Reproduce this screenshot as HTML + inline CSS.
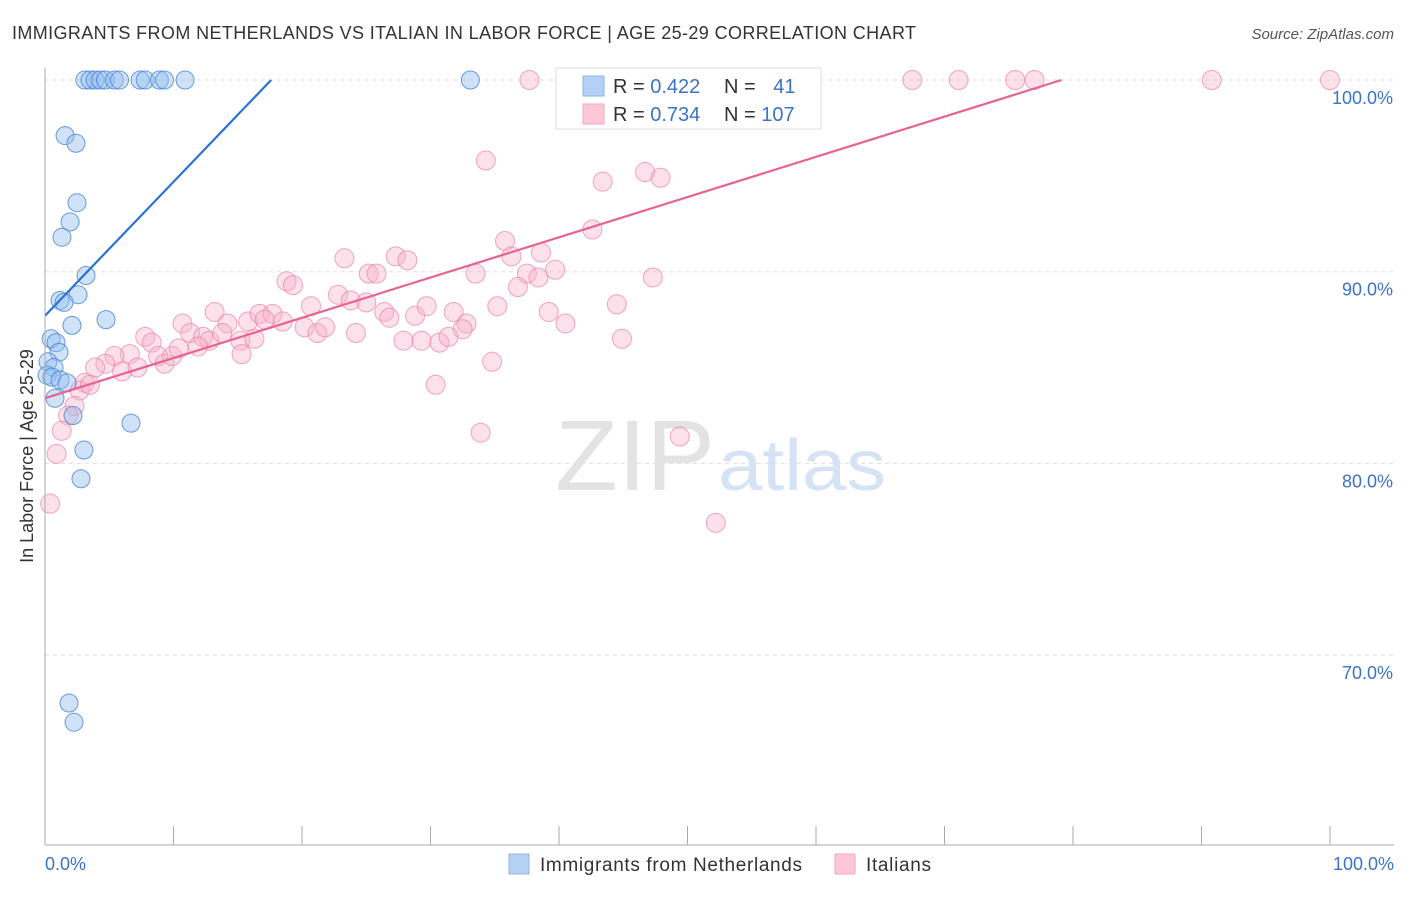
<!DOCTYPE html>
<html><head><meta charset="utf-8"><style>
body{margin:0;background:#fff;font-family:"Liberation Sans",sans-serif;}
svg text{font-family:"Liberation Sans",sans-serif;}
</style></head><body>
<svg id="chart" width="1406" height="892">
<text x="12" y="39" font-size="18" fill="#333" textLength="904" lengthAdjust="spacing">IMMIGRANTS FROM NETHERLANDS VS ITALIAN IN LABOR FORCE | AGE 25-29 CORRELATION CHART</text>
<text x="1394" y="39" font-size="15" fill="#555" font-style="italic" text-anchor="end">Source: ZipAtlas.com</text>
<g id="grid"></g>
<text x="555" y="490" font-size="100" fill="#e3e3e3" font-family="Liberation Serif" textLength="160" lengthAdjust="spacingAndGlyphs">ZIP</text>
<text x="718" y="490" font-size="72" fill="#d5e3f4" textLength="168" lengthAdjust="spacingAndGlyphs">atlas</text>
<g id="pts"></g>
<g id="lines"></g>
<line x1="45" y1="68" x2="45" y2="845" stroke="#aaa"/>
<line x1="45" y1="845" x2="1394" y2="845" stroke="#aaa"/>
<g id="ticks"></g>
<text x="33" y="456" font-size="18" fill="#333" text-anchor="middle" transform="rotate(-90 33 456)">In Labor Force | Age 25-29</text>
<text x="45" y="870" font-size="18" fill="#3b73c9">0.0%</text>
<text x="1394" y="870" font-size="18" fill="#3b73c9" text-anchor="end">100.0%</text>
<g>
<rect x="556" y="68" width="265" height="61" fill="#fff" stroke="#ddd"/>
<rect x="583" y="76" width="21" height="20" fill="#b4d0f5" stroke="#8fb5ea"/>
<rect x="583" y="104" width="21" height="20" fill="#fcc8d8" stroke="#f2a9c0"/>
<text x="613" y="93" font-size="20" fill="#333">R = <tspan fill="#3b73c9">0.422</tspan></text>
<text x="724" y="93" font-size="20" fill="#333">N = <tspan fill="#3b73c9" dx="12">41</tspan></text>
<text x="613" y="121" font-size="20" fill="#333">R = <tspan fill="#3b73c9">0.734</tspan></text>
<text x="724" y="121" font-size="20" fill="#333">N = <tspan fill="#3b73c9">107</tspan></text>
</g>
<g>
<rect x="509" y="854" width="20" height="20" fill="#b4d0f5" stroke="#8fb5ea"/>
<text x="540" y="871" font-size="19" fill="#333" textLength="262" lengthAdjust="spacing">Immigrants from Netherlands</text>
<rect x="835" y="854" width="20" height="20" fill="#fcc8d8" stroke="#f2a9c0"/>
<text x="866" y="871" font-size="19" fill="#333" textLength="65" lengthAdjust="spacing">Italians</text>
</g>
</svg>
<script>
const yTicks=[100,90,80,70];
const yTickLabels=["100.0%","90.0%","80.0%","70.0%"];
const blueX=[3.1,3.5,3.9,4.3,4.7,5.4,5.8,7.4,7.8,8.9,9.3,10.9,33.1,1.56,2.41,2.49,1.95,1.32,3.19,2.57,1.17,1.48,2.1,4.75,0.47,0.86,1.09,0.23,0.7,0.16,0.54,1.17,1.71,0.78,2.18,6.69,3.03,2.8,1.87,2.26];
const blueY=[100,100,100,100,100,100,100,100,100,100,100,100,100,97.1,96.7,93.6,92.6,91.8,89.8,88.8,88.5,88.4,87.2,87.5,86.5,86.3,85.8,85.3,85.0,84.6,84.5,84.35,84.2,83.4,82.5,82.1,80.7,79.2,67.5,66.5];
const pinkX=[37.7,40.5,41.2,45.8,55.6,67.5,71.1,75.5,77.0,90.8,100,34.3,43.4,46.7,47.9,42.6,35.8,38.6,36.3,27.3,28.2,23.3,25.2,25.8,33.5,37.5,38.4,39.7,47.3,36.8,18.8,19.3,13.2,10.7,14.2,15.8,16.7,17.7,17.1,18.5,20.7,22.8,23.8,25.0,26.4,26.8,28.8,29.7,31.8,32.8,32.5,35.2,39.2,40.5,44.5,44.9,20.2,21.2,21.8,24.2,27.9,29.3,30.7,31.4,34.8,30.4,33.9,49.4,52.2,11.3,12.3,12.8,13.8,15.2,16.3,15.3,7.8,8.3,8.8,9.3,9.9,6.6,5.4,4.7,3.9,6.0,7.2,3.1,2.7,2.3,1.8,1.3,0.9,0.4,3.5,10.4,11.9];
const pinkY=[100,100,100,100,100,100,100,100,100,100,100,95.8,94.7,95.2,94.9,92.2,91.6,91.0,90.8,90.8,90.6,90.7,89.9,89.9,89.9,89.9,89.7,90.1,89.7,89.2,89.5,89.3,87.9,87.3,87.3,87.4,87.8,87.8,87.5,87.4,88.2,88.8,88.5,88.4,87.9,87.6,87.7,88.2,87.9,87.3,87.0,88.2,87.9,87.3,88.3,86.5,87.1,86.8,87.1,86.8,86.4,86.4,86.3,86.6,85.3,84.1,81.6,81.4,76.9,86.8,86.6,86.4,86.8,86.4,86.5,85.7,86.6,86.3,85.6,85.2,85.6,85.7,85.6,85.2,85.0,84.8,85.0,84.2,83.8,83.0,82.5,81.7,80.5,77.9,84.1,86.0,86.1];
const blueTrend=[[0,87.7],[17.6,100]];
const pinkTrend=[[0,83.4],[79.1,100]];
const NS="http://www.w3.org/2000/svg";
const sx=v=>45+v*12.85;
const sy=v=>80+(100-v)*19.17;
function mk(tag,attrs,parent){const e=document.createElementNS(NS,tag);for(const k in attrs)e.setAttribute(k,attrs[k]);parent.appendChild(e);return e;}
const grid=document.getElementById('grid');
yTicks.forEach((t,i)=>{
  const l=mk('line',{x1:45,x2:1394,y1:sy(t),y2:sy(t),stroke:'#ddd','stroke-dasharray':'4,4'},grid);
  
  
  const tx=mk('text',{x:1393,y:sy(t)+24,'font-size':18,fill:'#3b73c9','text-anchor':'end'},grid);
  tx.textContent=yTickLabels[i];
  
  
});
const ticks=document.getElementById('ticks');
for(let k=1;k<=10;k++){
  const l=mk('line',{x1:sx(k*10),x2:sx(k*10),y1:826,y2:845,stroke:'#aaa'},ticks);
  
  
}
const pts=document.getElementById('pts');
pinkX.forEach((x,i)=>{
  const c=mk('circle',{cx:sx(x),cy:sy(pinkY[i]),r:9.5,fill:'rgba(247,178,202,0.4)',stroke:'rgba(232,130,165,0.7)','stroke-width':1},pts);
  
  
});
blueX.forEach((x,i)=>{
  const c=mk('circle',{cx:sx(x),cy:sy(blueY[i]),r:9,fill:'rgba(150,190,240,0.45)',stroke:'rgba(70,130,215,0.8)','stroke-width':1},pts);
  
  
});
const lines=document.getElementById('lines');
const bl=mk('line',{x1:sx(blueTrend[0][0]),y1:sy(blueTrend[0][1]),x2:sx(blueTrend[1][0]),y2:sy(blueTrend[1][1]),stroke:'#2a72d6','stroke-width':2.2},lines);


const pl=mk('line',{x1:sx(pinkTrend[0][0]),y1:sy(pinkTrend[0][1]),x2:sx(pinkTrend[1][0]),y2:sy(pinkTrend[1][1]),stroke:'#e8648f','stroke-width':2.2},lines);


</script>
</body></html>
